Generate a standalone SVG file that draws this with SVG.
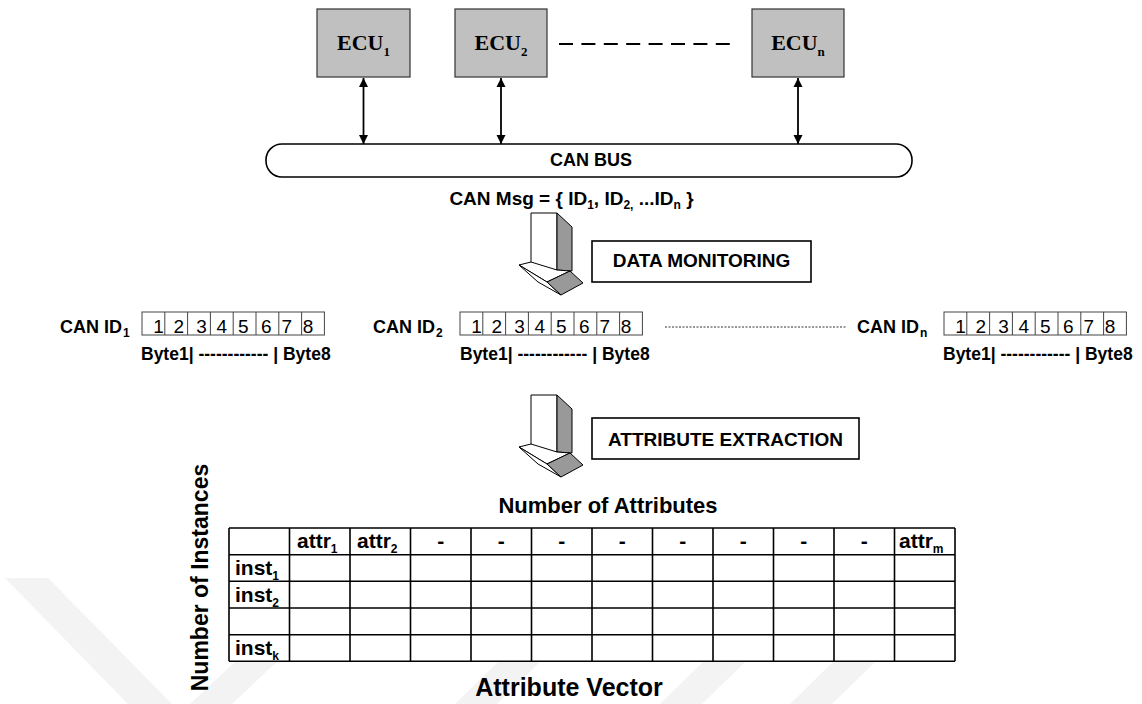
<svg xmlns="http://www.w3.org/2000/svg" width="1142" height="704" viewBox="0 0 1142 704">
<style>
.s{font-family:"Liberation Sans",Arial,sans-serif;font-weight:bold;fill:#000}
.r{font-family:"Liberation Sans",Arial,sans-serif;font-weight:normal;fill:#000}
.tm{font-family:"Liberation Serif","Times New Roman",serif;font-weight:bold;fill:#000}
.ecu{fill:#c0c0c0;stroke:#333;stroke-width:1.2}
.lbl{fill:#fff;stroke:#000;stroke-width:1.6}
.cell{fill:#fff;stroke:#444;stroke-width:1}
.wm{fill:#f3f3f3}
.tl{stroke:#000;stroke-width:1.6;fill:none}
.bar{fill:#fff;stroke:#000;stroke-width:1}
.side{fill:#999;stroke:#000;stroke-width:1}
</style>
<defs>
<marker id="ah" viewBox="0 0 10 10" refX="10" refY="5" markerWidth="5" markerHeight="6" orient="auto-start-reverse" markerUnits="strokeWidth">
<path d="M0,0 L10,5 L0,10 Z" fill="#000"/>
</marker>
<g id="blockarrow">
<polygon class="bar" points="531,213 557,213 557,270 531,270"/>
<polygon class="side" points="557,213 572,227 572,271 557,270"/>
<polygon class="bar" points="519,265 531,262 557,270 570,271 547,282"/>
<polygon class="bar" points="519,265 547,282 561,295 538,282"/>
<polygon class="side" points="547,282 570,271 583,283 561,295"/>
</g>
</defs>
<rect width="1142" height="704" fill="#fff"/>
<g id="watermark">
<polygon class="wm" points="5,578 48,578 172,704 128,704"/>
<polygon class="wm" points="190,704 232,704 300,640 258,640"/>
<polygon class="wm" points="455,704 497,704 540,662 498,662"/>
<polygon class="wm" points="660,704 702,704 745,662 703,662"/>
<polygon class="wm" points="790,704 832,704 875,662 833,662"/>
</g>
<g id="connectors">
<line x1="363.5" y1="78" x2="363.5" y2="144" stroke="#000" stroke-width="1.8" marker-start="url(#ah)" marker-end="url(#ah)"/>
<line x1="501" y1="78" x2="501" y2="144" stroke="#000" stroke-width="1.8" marker-start="url(#ah)" marker-end="url(#ah)"/>
<line x1="798" y1="78" x2="798" y2="144" stroke="#000" stroke-width="1.8" marker-start="url(#ah)" marker-end="url(#ah)"/>
<line x1="559" y1="44" x2="738" y2="44" stroke="#000" stroke-width="2" stroke-dasharray="14 8.4"/>
<line x1="665" y1="327" x2="847" y2="327" stroke="#333" stroke-width="1" stroke-dasharray="2 1.5"/>
<use href="#blockarrow"/>
<use href="#blockarrow" transform="translate(0,182)"/>
</g>
<g id="ecu1">
<rect class="ecu" x="317" y="9" width="93" height="68"/>
<text class="tm" x="363.5" y="50" font-size="22" text-anchor="middle">ECU<tspan font-size="13" dy="6">1</tspan></text>
</g>
<g id="ecu2">
<rect class="ecu" x="455" y="9" width="92" height="68"/>
<text class="tm" x="501" y="50" font-size="22" text-anchor="middle">ECU<tspan font-size="13" dy="6">2</tspan></text>
</g>
<g id="ecun">
<rect class="ecu" x="752" y="9" width="92" height="68"/>
<text class="tm" x="798" y="50" font-size="22" text-anchor="middle">ECU<tspan font-size="13" dy="6">n</tspan></text>
</g>
<g id="canbus">
<rect x="266" y="144" width="646" height="33" rx="16" ry="16" fill="#fff" stroke="#000" stroke-width="1.6"/>
<text class="s" x="591" y="166" font-size="18" text-anchor="middle">CAN BUS</text>
<text class="s" x="571.5" y="205" font-size="19" text-anchor="middle">CAN Msg = { ID<tspan font-size="12" dy="4">1</tspan><tspan dy="-4">, ID</tspan><tspan font-size="12" dy="4">2,</tspan><tspan dy="-4"> ...ID</tspan><tspan font-size="12" dy="4">n</tspan><tspan dy="-4"> }</tspan></text>
</g>
<g id="data-monitoring">
<rect class="lbl" x="592" y="241" width="219" height="41"/>
<text class="s" x="701.5" y="267" font-size="19" text-anchor="middle">DATA MONITORING</text>
</g>
<g id="canid1">
<text class="s" x="60" y="333" font-size="18">CAN ID<tspan font-size="12" dy="4" dx="1">1</tspan></text>
<rect class="cell" x="142" y="312" width="182.4" height="23"/>
<path d="M164.8,312V335M187.6,312V335M210.4,312V335M233.2,312V335M256,312V335M278.8,312V335M301.6,312V335" stroke="#444" stroke-width="1"/>
<g class="r" font-size="19" text-anchor="middle"><text x="158.5" y="333">1</text><text x="178.8" y="333">2</text><text x="201.5" y="333">3</text><text x="221.8" y="333">4</text><text x="243.2" y="333">5</text><text x="266.3" y="333">6</text><text x="286.8" y="333">7</text><text x="308" y="333">8</text></g>
<text class="s" x="141" y="360" font-size="17.5">Byte1| ------------ | Byte8</text>
</g>
<g id="canid2">
<text class="s" x="373" y="333" font-size="18">CAN ID<tspan font-size="12" dy="4" dx="1">2</tspan></text>
<rect class="cell" x="460" y="312" width="182.4" height="23"/>
<path d="M482.8,312V335M505.6,312V335M528.4,312V335M551.2,312V335M574,312V335M596.8,312V335M619.6,312V335" stroke="#444" stroke-width="1"/>
<g class="r" font-size="19" text-anchor="middle"><text x="476.5" y="333">1</text><text x="496.8" y="333">2</text><text x="519.5" y="333">3</text><text x="539.8" y="333">4</text><text x="561.2" y="333">5</text><text x="584.3" y="333">6</text><text x="604.8" y="333">7</text><text x="626" y="333">8</text></g>
<text class="s" x="460" y="360" font-size="17.5">Byte1| ------------ | Byte8</text>
</g>
<g id="canidn">
<text class="s" x="857" y="333" font-size="18">CAN ID<tspan font-size="12" dy="4" dx="1">n</tspan></text>
<rect class="cell" x="944" y="312" width="182.4" height="23"/>
<path d="M966.8,312V335M989.6,312V335M1012.4,312V335M1035.2,312V335M1058,312V335M1080.8,312V335M1103.6,312V335" stroke="#444" stroke-width="1"/>
<g class="r" font-size="19" text-anchor="middle"><text x="960.5" y="333">1</text><text x="980.8" y="333">2</text><text x="1003.5" y="333">3</text><text x="1023.8" y="333">4</text><text x="1045.2" y="333">5</text><text x="1068.3" y="333">6</text><text x="1088.8" y="333">7</text><text x="1110" y="333">8</text></g>
<text class="s" x="943" y="360" font-size="17.5">Byte1| ------------ | Byte8</text>
</g>
<g id="attribute-extraction">
<rect class="lbl" x="592" y="418" width="267" height="41"/>
<text class="s" x="725.5" y="446" font-size="19" text-anchor="middle">ATTRIBUTE EXTRACTION</text>
</g>
<g id="table">
<text class="s" x="608" y="513" font-size="22" text-anchor="middle">Number of Attributes</text>
<text class="s" transform="translate(208,577.5) rotate(-90)" x="0" y="0" font-size="23" text-anchor="middle">Number of Instances</text>
<text class="s" x="569" y="696" font-size="25" text-anchor="middle">Attribute Vector</text>
<rect x="229" y="528" width="726" height="133.3" fill="#fff"/>
<path class="tl" d="M229,528H955M229,554.7H955M229,581.3H955M229,608H955M229,634.7H955M229,661.3H955"/>
<path class="tl" d="M229,528V661.3M289.5,528V661.3M350,528V661.3M410.5,528V661.3M471,528V661.3M531.5,528V661.3M592,528V661.3M652.5,528V661.3M713,528V661.3M773.5,528V661.3M834,528V661.3M894.5,528V661.3M955,528V661.3"/>
<g class="s" font-size="21">
<text x="297" y="548">attr<tspan font-size="12" dy="5">1</tspan></text>
<text x="357" y="548">attr<tspan font-size="12" dy="5">2</tspan></text>
<text x="899" y="548">attr<tspan font-size="12" dy="5">m</tspan></text>
<text x="235" y="575">inst<tspan font-size="12" dy="5">1</tspan></text>
<text x="235" y="601.7">inst<tspan font-size="12" dy="5">2</tspan></text>
<text x="235" y="655">inst<tspan font-size="12" dy="5">k</tspan></text>
</g>
<g class="s" font-size="21" text-anchor="middle">
<text x="440.75" y="548">-</text><text x="501.25" y="548">-</text><text x="561.75" y="548">-</text><text x="622.25" y="548">-</text><text x="682.75" y="548">-</text><text x="743.25" y="548">-</text><text x="803.75" y="548">-</text><text x="864.25" y="548">-</text>
</g>
</g>
</svg>
